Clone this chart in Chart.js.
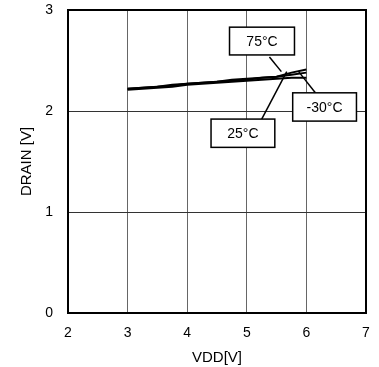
<!DOCTYPE html>
<html>
<head>
<meta charset="utf-8">
<script src="https://cdn.jsdelivr.net/npm/chart.js@4/dist/chart.umd.min.js"></script>
<style>
html,body{margin:0;padding:0;background:#fff;}
#wrap{width:379px;height:367px;position:relative;}
</style>
</head>
<body>
<div id="wrap"><canvas id="c" width="379" height="367"></canvas></div>
<script>
// ---- data ----
const vdd = [3.0,3.25,3.5,3.75,4.0,4.25,4.5,4.75,5.0,5.25,5.5,5.75,6.0];
const drain75 = [2.22,2.23,2.24,2.26,2.27,2.28,2.29,2.30,2.31,2.33,2.34,2.38,2.41];
const drain25 = [2.22,2.23,2.24,2.25,2.27,2.28,2.29,2.31,2.32,2.33,2.34,2.36,2.38];
const drainM30 = [2.21,2.22,2.23,2.24,2.26,2.27,2.28,2.29,2.30,2.31,2.32,2.33,2.33];
const seriesNames = ['75\u00B0C','25\u00B0C','-30\u00B0C'];
const xTicks = [2,3,4,5,6,7];
const yTicks = [0,1,2,3];

// label callouts (in data units)
const callouts = [
  {text: seriesNames[0], box:[4.71,5.80,2.83,2.555], from:[5.38,2.535], to:[5.58,2.39]},
  {text: seriesNames[1], box:[4.40,5.47,1.92,1.64], from:[5.25,1.92], to:[5.67,2.39]},
  {text: seriesNames[2], box:[5.77,6.84,2.18,1.90], from:[6.15,2.18], to:[5.87,2.39]}
];

const FONT = "'Liberation Sans', Arial, sans-serif";

const framePlugin = {
  id:'frame',
  afterDatasetsDraw(chart){
    const {ctx, chartArea:a, scales} = chart;
    const xs = scales.x, ys = scales.y;
    ctx.save();
    ctx.strokeStyle = '#000';
    ctx.lineWidth = 2;
    ctx.strokeRect(a.left, a.top, a.right-a.left, a.bottom-a.top);
    ctx.font = '14px ' + FONT;
    ctx.textAlign = 'center';
    ctx.textBaseline = 'middle';
    callouts.forEach(c=>{
      ctx.lineWidth = 1.5;
      ctx.beginPath();
      ctx.moveTo(xs.getPixelForValue(c.from[0]), ys.getPixelForValue(c.from[1]));
      ctx.lineTo(xs.getPixelForValue(c.to[0]), ys.getPixelForValue(c.to[1]));
      ctx.stroke();
      const x1 = xs.getPixelForValue(c.box[0]), x2 = xs.getPixelForValue(c.box[1]);
      const y1 = ys.getPixelForValue(c.box[2]), y2 = ys.getPixelForValue(c.box[3]);
      ctx.fillStyle = '#fff';
      ctx.fillRect(x1, y1, x2-x1, y2-y1);
      ctx.strokeRect(x1, y1, x2-x1, y2-y1);
      ctx.fillStyle = '#000';
      ctx.fillText(c.text, (x1+x2)/2, (y1+y2)/2 + 1);
    });
    ctx.restore();
  }
};

const mk = (label, data) => ({
  label,
  data: vdd.map((v,i)=>({x:v, y:data[i]})),
  borderColor:'#000',
  borderWidth:2,
  pointRadius:0,
  fill:false,
  tension:0
});

new Chart(document.getElementById('c'), {
  type:'line',
  data:{datasets:[mk(seriesNames[0],drain75), mk(seriesNames[1],drain25), mk(seriesNames[2],drainM30)]},
  options:{
    responsive:false,
    animation:false,
    devicePixelRatio:1,
    layout:{padding:{top:10,right:13,left:0,bottom:0}},
    plugins:{legend:{display:false}, tooltip:{enabled:false}},
    scales:{
      x:{
        type:'linear', min:2, max:7,
        afterBuildTicks(s){ s.ticks = xTicks.map(v=>({value:v})); },
        afterFit(s){ s.height = 54; s.paddingLeft = 0; s.paddingRight = 0; },
        grid:{color:'#666', lineWidth:1, drawTicks:false},
        border:{display:false},
        ticks:{color:'#000', font:{family:FONT, size:14}, padding:12, maxRotation:0},
        title:{display:true, text:'VDD[V]', color:'#000', font:{family:FONT, size:15}, padding:{top:2,bottom:0}}
      },
      y:{
        type:'linear', min:0, max:3,
        afterBuildTicks(s){ s.ticks = yTicks.map(v=>({value:v})); },
        afterFit(s){ s.width = 68; s.paddingTop = 0; s.paddingBottom = 0; },
        grid:{color:'#333', lineWidth:1, drawTicks:false},
        border:{display:false},
        ticks:{color:'#000', font:{family:FONT, size:14}, padding:15},
        title:{display:true, text:'DRAIN [V]', color:'#000', font:{family:FONT, size:15}, padding:{top:18,bottom:0}}
      }
    }
  },
  plugins:[framePlugin]
});
</script>
</body>
</html>
